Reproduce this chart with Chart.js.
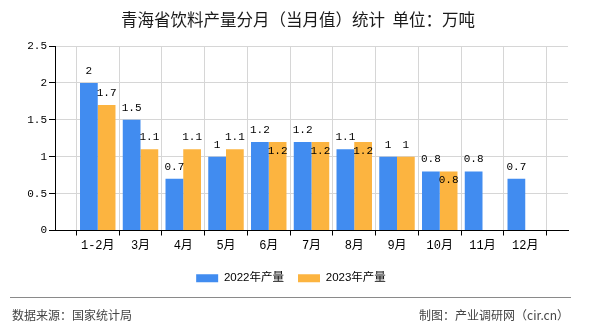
<!DOCTYPE html>
<html>
<head>
<meta charset="utf-8">
<script src="https://cdn.jsdelivr.net/npm/chart.js@4"></script>
<style>
  html, body { margin: 0; padding: 0; background: #fff; }
  canvas { display: block; }
</style>
</head>
<body>
<canvas id="chart" width="590" height="330"></canvas>
<script>
const months = ['1-2月', '3月', '4月', '5月', '6月', '7月', '8月', '9月', '10月', '11月', '12月'];
const output2022 = [2, 1.5, 0.7, 1, 1.2, 1.2, 1.1, 1, 0.8, 0.8, 0.7];
const output2023 = [1.7, 1.1, 1.1, 1.1, 1.2, 1.2, 1.2, 1, 0.8, null, null];
const yTicks = [0, 0.5, 1, 1.5, 2, 2.5];

const titleText = '青海省饮料产量分月（当月值）统计  单位：万吨';
const numFont = '11px "Liberation Mono", "DejaVu Sans Mono", monospace';
const cjkFont = '"Liberation Mono", "Noto Sans CJK SC", sans-serif';

// empty slot on each end so months sit between the axis ends
const labels = [''].concat(months, ['']);
const pad = arr => [null].concat(arr, [null]);

// value labels, the 2023 one moves inside its bar when it would hit the 2022 one
const valueLabels = {
  id: 'valueLabels',
  afterDatasetsDraw(chart) {
    const ctx = chart.ctx;
    ctx.save();
    ctx.font = numFont;
    ctx.fillStyle = '#000';
    ctx.textAlign = 'center';
    ctx.textBaseline = 'alphabetic';
    const m0 = chart.getDatasetMeta(0);
    const m1 = chart.getDatasetMeta(1);
    const h = 9;
    for (let i = 0; i < labels.length; i++) {
      const v0 = chart.data.datasets[0].data[i];
      const v1 = chart.data.datasets[1].data[i];
      let box0 = null;
      if (v0 != null) {
        const b = m0.data[i];
        const t = String(v0);
        const w = ctx.measureText(t).width;
        const y = b.y - 9;
        ctx.fillText(t, b.x, y);
        box0 = { l: b.x - w / 2, r: b.x + w / 2, top: y - h, bot: y };
      }
      if (v1 != null) {
        const b = m1.data[i];
        const t = String(v1);
        const w = ctx.measureText(t).width;
        let y = b.y - 9;
        const l = b.x - w / 2;
        if (box0 && box0.r >= l - 0.5 && y > box0.top - 1 && y - h < box0.bot + 1) {
          y = b.y + 12;
        }
        ctx.fillText(t, b.x, y);
      }
    }
    ctx.restore();
  }
};

const titleAndFooter = {
  id: 'titleAndFooter',
  afterDraw(chart) {
    const ctx = chart.ctx;
    ctx.save();
    ctx.fillStyle = '#1a1a1a';
    ctx.font = '16.5px "Noto Sans CJK SC", sans-serif';
    ctx.textAlign = 'center';
    ctx.textBaseline = 'middle';
    ctx.fillText(titleText, 298, 20);

    ctx.strokeStyle = '#8a8a8a';
    ctx.lineWidth = 1.2;
    ctx.beginPath();
    ctx.moveTo(10, 297.5);
    ctx.lineTo(571, 297.5);
    ctx.stroke();
    ctx.fillStyle = '#444';
    ctx.font = '12px "Noto Sans CJK SC", sans-serif';
    ctx.textAlign = 'left';
    ctx.fillText('数据来源：国家统计局', 12, 315);
    ctx.textAlign = 'right';
    ctx.fillText('制图：产业调研网（cir.cn）', 569, 315);
    ctx.restore();
  }
};

const bg = {
  id: 'bg',
  beforeDraw(chart) {
    const ctx = chart.ctx;
    ctx.save();
    ctx.fillStyle = '#fff';
    ctx.fillRect(0, 0, chart.width, chart.height);
    ctx.restore();
  }
};

new Chart(document.getElementById('chart').getContext('2d'), {
  type: 'bar',
  data: {
    labels: labels,
    datasets: [
      {
        label: '2022年产量',
        data: pad(output2022),
        backgroundColor: '#418CF0',
        borderWidth: 0,
      },
      {
        label: '2023年产量',
        data: pad(output2023),
        backgroundColor: '#FCB440',
        borderWidth: 0,
      },
    ],
  },
  options: {
    responsive: false,
    animation: false,
    devicePixelRatio: 1,
    categoryPercentage: 0.83,
    barPercentage: 1,
    layout: { padding: { left: 14, right: 22, top: 46, bottom: 36 } },
    plugins: {
      title: { display: false },
      legend: {
        position: 'bottom',
        labels: {
          boxWidth: 22,
          boxHeight: 8,
          padding: 14,
          color: '#000',
          font: { size: 11.5, family: '"Liberation Sans", "Noto Sans CJK SC", sans-serif' },
        },
      },
      tooltip: { enabled: false },
    },
    scales: {
      x: {
        offset: false,
        grid: { color: '#d6d6d6', tickColor: '#000', tickLength: 5 },
        border: { color: '#000' },
        ticks: {
          autoSkip: false,
          maxRotation: 0,
          color: '#000',
          padding: 3,
          font: { size: 12, family: cjkFont },
        },
        afterFit(scale) { scale.height = 28; },
      },
      y: {
        min: 0,
        max: 2.5,
        afterBuildTicks(scale) { scale.ticks = yTicks.map(v => ({ value: v })); },
        grid: { color: '#d6d6d6', tickColor: '#000', tickLength: 6 },
        border: { color: '#000' },
        ticks: {
          color: '#000',
          padding: 2,
          font: { size: 11, family: '"Liberation Mono", "DejaVu Sans Mono", monospace' },
          callback: v => String(v),
        },
        afterFit(scale) { scale.width = 41; },
      },
    },
  },
  plugins: [bg, valueLabels, titleAndFooter],
});
</script>
</body>
</html>
